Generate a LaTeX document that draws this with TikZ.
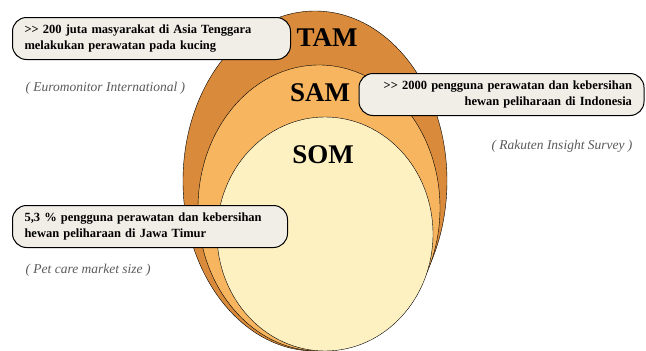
\documentclass[tikz,border=0pt]{standalone}
\usepackage{fontspec}
\setmainfont{Liberation Serif}
\usetikzlibrary{positioning}
\definecolor{tamcol}{HTML}{D98A3A}
\definecolor{samcol}{HTML}{F7B560}
\definecolor{somcol}{HTML}{FDF1C2}
\definecolor{notecol}{HTML}{F1EDE7}
\tikzset{
  note/.style={draw=black, line width=1pt, fill=notecol, rounded corners=14pt,
    minimum height=42pt, inner xsep=12pt, inner ysep=3pt, font=\bfseries\fontsize{12.5}{16}\selectfont},
  source/.style={text=black!65, font=\itshape\fontsize{13.5}{15}\selectfont},
  market/.style={font=\bfseries\fontsize{27}{27}\selectfont}
}
\newcommand{\gtgt}{>\kern0pt>}
\begin{document}
\begin{tikzpicture}[x=1pt,y=-1pt]
\useasboundingbox (0,0) rectangle (646,351);
\draw[fill=tamcol] (315,181) ellipse [x radius=132, y radius=170];
\draw[fill=samcol] (319,208) ellipse [x radius=121, y radius=143];
\draw[fill=somcol] (325,234) ellipse [x radius=108, y radius=117];
\node[market] (tam) at (327,38){TAM};
\node[market] (sam) at (320,93){SAM};
\node[market] (som) at (323,155){SOM};
\node[note, anchor=north west, minimum width=278pt, text width=254pt, align=left] (tamnote) at (12,17)
  {\gtgt{} 200 juta masyarakat di Asia Tenggara\\melakukan perawatan pada kucing};
\node[source, anchor=west] (tamsrc) at (22,88){( Euromonitor International )};
\node[note, anchor=north east, minimum width=285pt, text width=261pt, align=right] (samnote) at (644.5,73)
  {\gtgt{} 2000 pengguna perawatan dan kebersihan\\hewan peliharaan di Indonesia};
\node[source, anchor=east] (samsrc) at (636,146){( Rakuten Insight Survey )};
\node[note, anchor=north west, minimum width=275pt, text width=251pt, align=left] (somnote) at (12,205)
  {5,3 \% pengguna perawatan dan kebersihan\\hewan peliharaan di Jawa Timur};
\node[source, anchor=west] (somsrc) at (22,270){( Pet care market size )};
\end{tikzpicture}
\end{document}
